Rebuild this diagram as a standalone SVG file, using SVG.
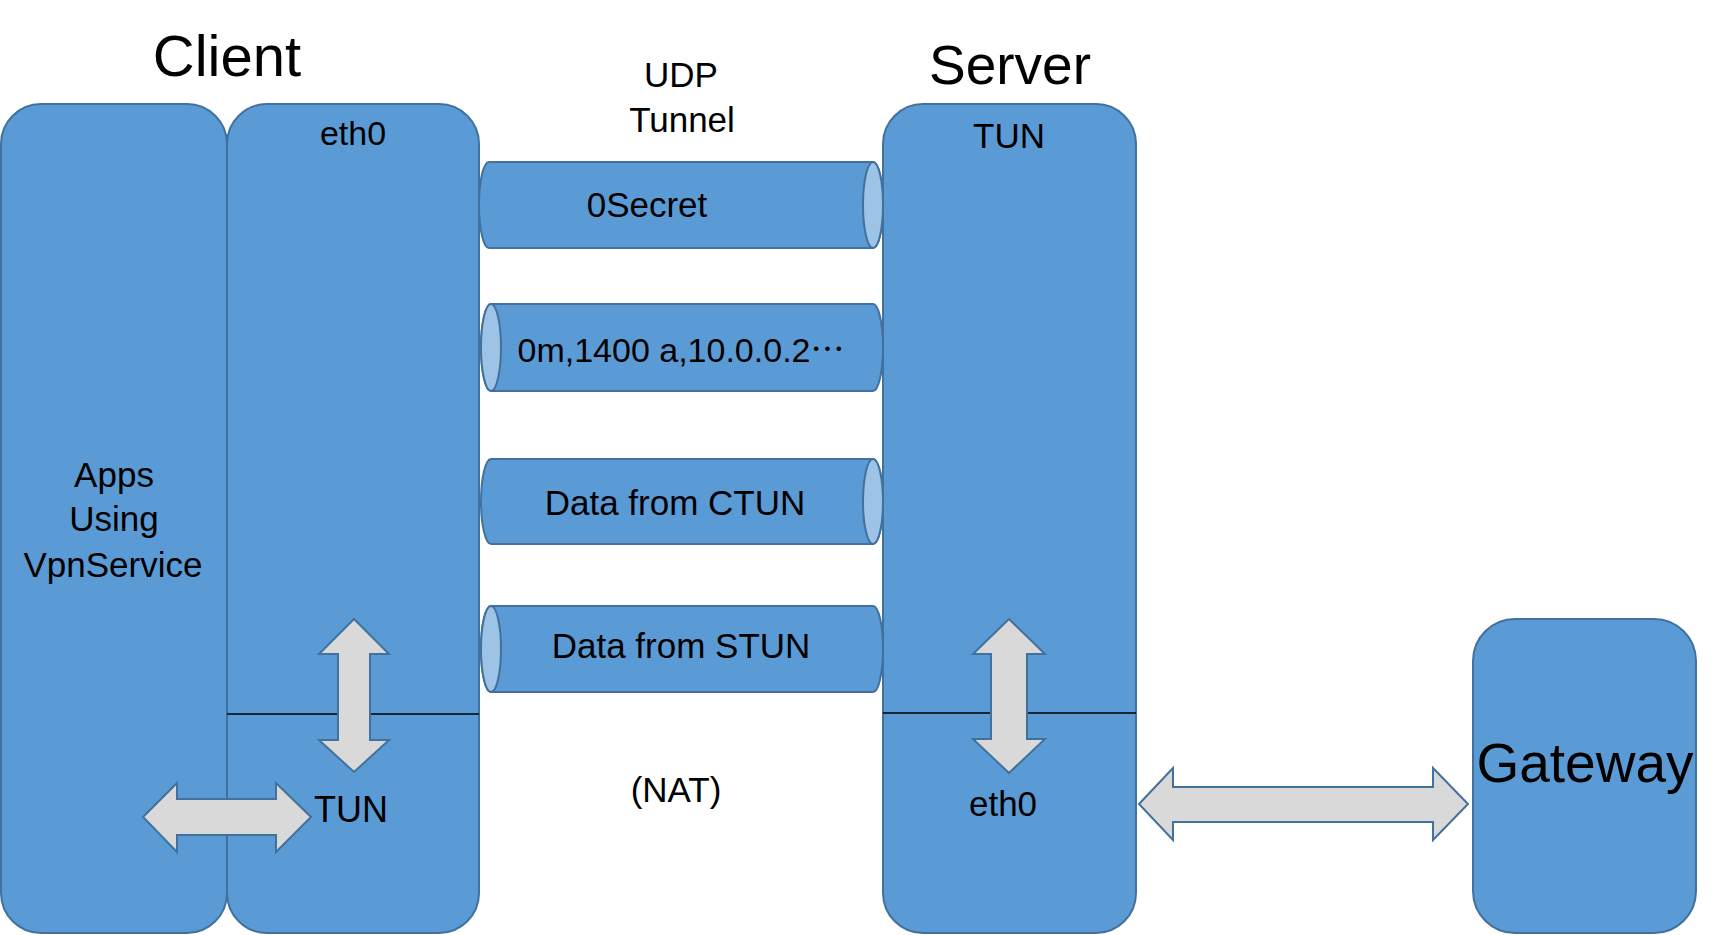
<svg xmlns="http://www.w3.org/2000/svg" width="1727" height="935" viewBox="0 0 1727 935">
<style>
.box{fill:#5b9bd5;stroke:#41719c;stroke-width:2}
.cap{fill:#9dc3e6;stroke:#41719c;stroke-width:2}
.sep{stroke:#000;stroke-width:1.3;fill:none}
.arr{fill:#d9d9d9;stroke:#41719c;stroke-width:2;stroke-linejoin:miter}
text{font-family:"Liberation Sans","Noto Sans CJK SC",sans-serif;fill:#000;text-anchor:middle}
.t{font-size:35px}
.big{font-size:58px}
.cjk{font-family:"Noto Sans CJK SC",sans-serif;font-feature-settings:"fwid" 1}
</style>
<rect width="1727" height="935" fill="#fff"/>
<text class="big" x="227" y="76">Client</text>
<text class="big" x="1010" y="84" style="font-size:55px">Server</text>
<g id="udp-label">
<text class="t" x="681" y="87">UDP</text>
<text class="t" x="682" y="132">Tunnel</text>
</g>
<g id="apps">
<rect class="box" x="1" y="104" width="226" height="829" rx="40" ry="40"/>
<text class="t" x="114" y="487">Apps</text>
<text class="t" x="114" y="531">Using</text>
<text class="t" x="113" y="577">VpnService</text>
</g>
<g id="client">
<rect class="box" x="227" y="104" width="252" height="829" rx="40" ry="40"/>
<line class="sep" x1="227" y1="714" x2="479" y2="714"/>
<text class="t" x="353" y="145" style="font-size:34px">eth0</text>
<text class="t" x="351" y="822" style="font-size:36px">TUN</text>
</g>
<g id="server">
<rect class="box" x="883" y="104" width="253" height="829" rx="40" ry="40"/>
<line class="sep" x1="883" y1="713" x2="1136" y2="713"/>
<text class="t" x="1009" y="148">TUN</text>
<text class="t" x="1003" y="816">eth0</text>
</g>
<g id="gateway">
<rect class="box" x="1473" y="619" width="223" height="314" rx="42" ry="42"/>
<text x="1585" y="782" style="font-size:55px">Gateway</text>
</g>
<g id="pipe-secret">
<path class="box" d="M489,162 L873,162 A10,43 0 0 1 873,248 L489,248 A10,43 0 0 1 489,162 Z"/>
<ellipse class="cap" cx="873" cy="205" rx="10" ry="43"/>
<text class="t" x="647" y="217">0Secret</text>
</g>
<g id="pipe-config">
<path class="box" d="M491,304 L873,304 A10,43.5 0 0 1 873,391 L491,391 A10,43.5 0 0 1 491,304 Z"/>
<ellipse class="cap" cx="491" cy="347.5" rx="10" ry="43.5"/>
<text class="t" x="681" y="362" style="font-size:34px">0m,1400 a,10.0.0.2<tspan class="cjk" xml:lang="zh-CN">…</tspan></text>
</g>
<g id="pipe-ctun">
<path class="box" d="M491,459 L873,459 A10,42.5 0 0 1 873,544 L491,544 A10,42.5 0 0 1 491,459 Z"/>
<ellipse class="cap" cx="873" cy="501.5" rx="10" ry="42.5"/>
<text class="t" x="675" y="515">Data from CTUN</text>
</g>
<g id="pipe-stun">
<path class="box" d="M491,606 L873,606 A10,43 0 0 1 873,692 L491,692 A10,43 0 0 1 491,606 Z"/>
<ellipse class="cap" cx="491" cy="649" rx="10" ry="43"/>
<text class="t" x="681" y="658">Data from STUN</text>
</g>
<g id="nat-label">
<text class="t" x="676" y="802">(NAT)</text>
</g>
<g id="connectors">
<polygon class="arr" points="354,619 389,654 370,654 370,740 389,740 354,772 319,740 338,740 338,654 319,654"/>
<polygon class="arr" points="143,817 177,783 177,799 276,799 276,783 311,817 276,852 276,835 177,835 177,852"/>
<polygon class="arr" points="1009,619 1045,654 1027,654 1027,739 1045,739 1009,773 973,739 991,739 991,654 973,654"/>
<polygon class="arr" points="1139,804 1173,768 1173,787 1433,787 1433,768 1468,804 1433,840 1433,822 1173,822 1173,840"/>
</g>
</svg>
